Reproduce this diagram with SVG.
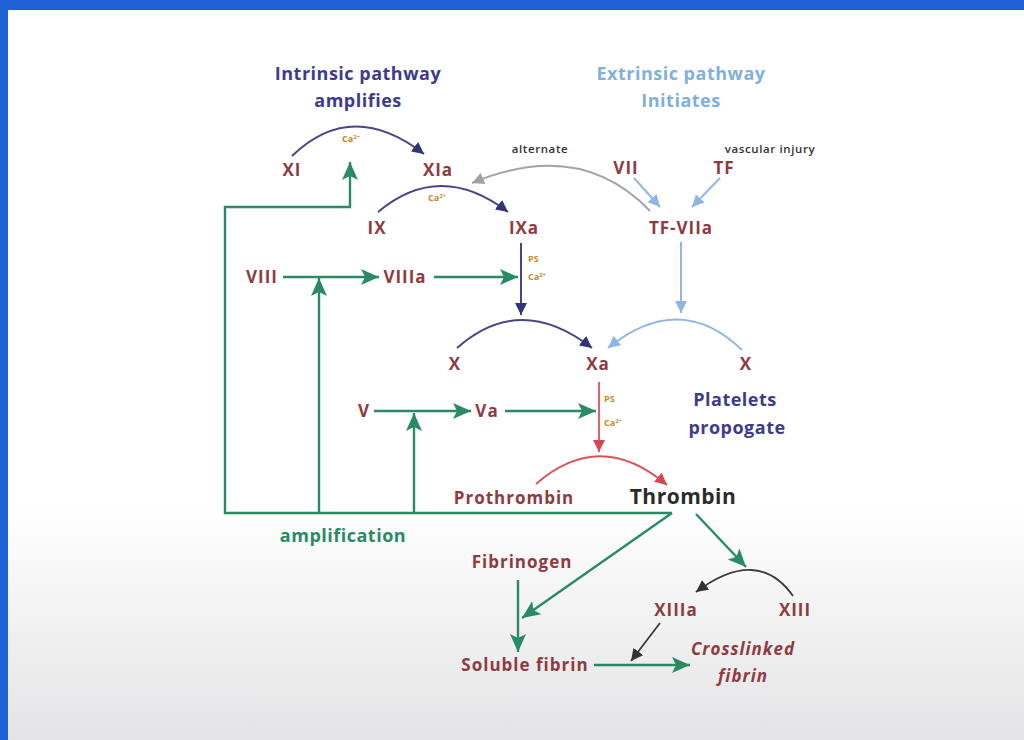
<svg xmlns="http://www.w3.org/2000/svg" width="1024" height="740" viewBox="0 0 1024 740">
<style>
.t{font-family:"Open Sans","Liberation Sans",sans-serif;font-weight:700;text-anchor:middle}
.f{fill:#8e3b3f;font-size:17px;letter-spacing:1px}
.hd{font-size:18px;letter-spacing:0.5px}
.sm{font-family:"Open Sans","Liberation Sans",sans-serif;font-size:11.5px;font-weight:600;letter-spacing:0.6px;fill:#333;text-anchor:middle}
.ca{font-family:"Open Sans","Liberation Sans",sans-serif;font-size:9px;fill:#c48a2c;font-weight:700}
.g{stroke:#2a8a66;stroke-width:2.4;fill:none}
.ind{stroke:#45458a;stroke-width:2;fill:none}
.lb{stroke:#92b8e2;stroke-width:2;fill:none}
.gr{stroke:#a3a3ab;stroke-width:2;fill:none}
.rd{stroke:#d9545a;stroke-width:1.8;fill:none}
.dk{stroke:#3a3a3a;stroke-width:1.8;fill:none}
</style>
<defs>
<linearGradient id="bg" x1="0" y1="0" x2="0" y2="1">
<stop offset="0" stop-color="#ffffff"/>
<stop offset="0.68" stop-color="#ffffff"/>
<stop offset="1" stop-color="#e4e4e6"/>
</linearGradient>
<marker id="mg" markerUnits="userSpaceOnUse" markerWidth="20" markerHeight="18" refX="18" refY="9" orient="auto"><path d="M0,1 L18,9 L0,17 L4,9 Z" fill="#2a8a66"/></marker>
<marker id="mi" markerUnits="userSpaceOnUse" markerWidth="14" markerHeight="12" refX="12" refY="6" orient="auto"><path d="M0,0 L12,6 L0,12 Z" fill="#33337a"/></marker>
<marker id="ml" markerUnits="userSpaceOnUse" markerWidth="14" markerHeight="12" refX="12" refY="6" orient="auto"><path d="M0,0 L12,6 L0,12 Z" fill="#8fb6e2"/></marker>
<marker id="mgr" markerUnits="userSpaceOnUse" markerWidth="14" markerHeight="12" refX="12" refY="6" orient="auto"><path d="M0,0 L12,6 L0,12 Z" fill="#a0a0a8"/></marker>
<marker id="mr" markerUnits="userSpaceOnUse" markerWidth="14" markerHeight="12" refX="12" refY="6" orient="auto"><path d="M0,0 L12,6 L0,12 Z" fill="#d9454c"/></marker>
<marker id="md" markerUnits="userSpaceOnUse" markerWidth="14" markerHeight="12" refX="12" refY="6" orient="auto"><path d="M0,0 L12,6 L0,12 Z" fill="#333"/></marker>
</defs>
<rect x="0" y="0" width="1024" height="740" fill="url(#bg)"/>
<rect x="0" y="0" width="1024" height="10" fill="#1e60d6"/>
<rect x="0" y="0" width="8" height="740" fill="#1e60d6"/>

<g id="connectors">
<path class="ind" d="M292,156 Q352,98 424,154" marker-end="url(#mi)"/>
<path class="ind" d="M378,212 Q440,160 508,212" marker-end="url(#mi)"/>
<path class="gr" d="M650,211 Q580,138 472,183" marker-end="url(#mgr)"/>
<path class="lb" d="M634,178 L660,207" marker-end="url(#ml)"/>
<path class="lb" d="M720,178 L692,207" marker-end="url(#ml)"/>
<path class="lb" d="M681,242 L681,313" marker-end="url(#ml)"/>
<path class="ind" d="M521,243 L521,315" marker-end="url(#mi)"/>
<path class="ind" d="M457,348 Q520,292 592,348" marker-end="url(#mi)"/>
<path class="lb" d="M742,350 Q680,290 608,348" marker-end="url(#ml)"/>
<path class="rd" d="M599,382 L599,452" marker-end="url(#mr)"/>
<path class="rd" d="M536,484 Q600,428 667,485" marker-end="url(#mr)"/>
<path class="g" d="M283,277 L379,277" marker-end="url(#mg)"/>
<path class="g" d="M434,277 L518,277" marker-end="url(#mg)"/>
<path class="g" d="M374,411 L471,411" marker-end="url(#mg)"/>
<path class="g" d="M505,411 L596,411" marker-end="url(#mg)"/>
<path class="g" d="M672,513 L225,513 L225,207 L350,207 L350,162" marker-end="url(#mg)"/>
<path class="g" d="M319,513 L319,278" marker-end="url(#mg)"/>
<path class="g" d="M414,513 L414,413" marker-end="url(#mg)"/>
<path class="g" d="M672,513 L522,618" marker-end="url(#mg)"/>
<path class="g" d="M518,580 L518,652" marker-end="url(#mg)"/>
<path class="g" d="M696,514 L746,567" marker-end="url(#mg)"/>
<path class="dk" d="M793,596 Q758,546 696,592" marker-end="url(#md)"/>
<path class="dk" d="M660,623 L631,661" marker-end="url(#md)"/>
<path class="g" d="M594,665 L690,665" marker-end="url(#mg)"/>
</g>

<g id="headings">
<text class="t hd" x="358" y="80" fill="#3d3b8e">Intrinsic pathway</text>
<text class="t hd" x="358" y="107" fill="#3d3b8e">amplifies</text>
<text class="t hd" x="681" y="80" fill="#7fb0e0">Extrinsic pathway</text>
<text class="t hd" x="681" y="107" fill="#7fb0e0">Initiates</text>
<text class="t hd" x="735" y="406" fill="#3d3b8e">Platelets</text>
<text class="t hd" x="737" y="434" fill="#3d3b8e">propogate</text>
<text class="t hd" x="343" y="542" fill="#2a8a66">amplification</text>
</g>

<g id="n-XI"><text class="t f" x="292" y="176">XI</text></g>
<g id="n-XIa"><text class="t f" x="438" y="176">XIa</text></g>
<g id="n-VII"><text class="t f" x="626" y="174">VII</text></g>
<g id="n-TF"><text class="t f" x="724" y="174">TF</text></g>
<g id="n-IX"><text class="t f" x="377" y="234">IX</text></g>
<g id="n-IXa"><text class="t f" x="524" y="234">IXa</text></g>
<g id="n-TFVIIa"><text class="t f" x="681" y="234">TF-VIIa</text></g>
<g id="n-VIII"><text class="t f" x="262" y="283">VIII</text></g>
<g id="n-VIIIa"><text class="t f" x="405" y="283">VIIIa</text></g>
<g id="n-X1"><text class="t f" x="455" y="370">X</text></g>
<g id="n-Xa"><text class="t f" x="598" y="370">Xa</text></g>
<g id="n-X2"><text class="t f" x="746" y="370">X</text></g>
<g id="n-V"><text class="t f" x="364" y="417">V</text></g>
<g id="n-Va"><text class="t f" x="487" y="417">Va</text></g>
<g id="n-Prothrombin"><text class="t f" x="514" y="504">Prothrombin</text></g>
<g id="n-Thrombin"><text class="t" x="683" y="504" font-size="21" letter-spacing="0.5" fill="#2b2b2b">Thrombin</text></g>
<g id="n-Fibrinogen"><text class="t f" x="522" y="568" fill="#9a4a3e">Fibrinogen</text></g>
<g id="n-XIIIa"><text class="t f" x="676" y="616">XIIIa</text></g>
<g id="n-XIII"><text class="t f" x="795" y="616">XIII</text></g>
<g id="n-Soluble"><text class="t f" x="525" y="671">Soluble fibrin</text></g>
<g id="n-Crosslinked"><text class="t f" x="743" y="655" font-style="italic">Crosslinked</text><text class="t f" x="743" y="682" font-style="italic">fibrin</text></g>

<g id="labels">
<text class="sm" x="540" y="153">alternate</text>
<text class="sm" x="770" y="153">vascular injury</text>
<text class="ca" x="342" y="142">Ca<tspan font-size="6" dy="-3">2+</tspan></text>
<text class="ca" x="428" y="201">Ca<tspan font-size="6" dy="-3">2+</tspan></text>
<text class="ca" x="528" y="262">PS</text>
<text class="ca" x="528" y="280">Ca<tspan font-size="6" dy="-3">2+</tspan></text>
<text class="ca" x="604" y="402">PS</text>
<text class="ca" x="604" y="426">Ca<tspan font-size="6" dy="-3">2+</tspan></text>
</g>
</svg>
